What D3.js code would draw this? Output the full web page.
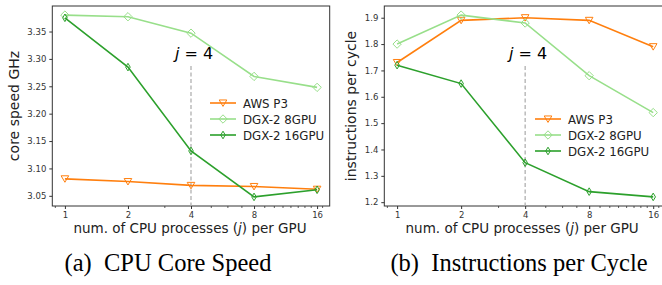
<!DOCTYPE html>
<html>
<head>
<meta charset="utf-8">
<script src="https://cdn.jsdelivr.net/npm/d3@7"></script>
<style>
  body { margin: 0; background: #fff; }
  svg text { font-family: "DejaVu Sans", sans-serif; }
</style>
</head>
<body>
<svg id="chart" width="662" height="285"></svg>
<script>
// x values: CPU processes per GPU
var procs = [1, 2, 4, 8, 16];
var seriesNames = ["AWS P3", "DGX-2 8GPU", "DGX-2 16GPU"];

// (a) core speed, GHz
var speedAws = [3.081, 3.076, 3.069, 3.067, 3.062];
var speedDgx8 = [3.380, 3.377, 3.347, 3.268, 3.248];
var speedDgx16 = [3.375, 3.285, 3.132, 3.048, 3.061];
var speedTicks = [3.05, 3.10, 3.15, 3.20, 3.25, 3.30, 3.35];

// (b) instructions per cycle
var ipcAws = [1.73, 1.89, 1.90, 1.89, 1.79];
var ipcDgx8 = [1.80, 1.91, 1.88, 1.68, 1.54];
var ipcDgx16 = [1.72, 1.65, 1.35, 1.24, 1.22];
var ipcTicks = [1.2, 1.3, 1.4, 1.5, 1.6, 1.7, 1.8, 1.9];

var colors = ["#ff7f0e", "#98df8a", "#2ca02c"];
var markers = ["tri", "diamond", "thin"];

var svg = d3.select("#chart");

function markerPath(kind, s) {
  if (kind == "tri") return "M" + (-s) + "," + (-s * 0.8) + "L" + s + "," + (-s * 0.8) + "L0," + (s * 0.9) + "Z";
  if (kind == "diamond") return "M0," + (-s * 1.1) + "L" + (s * 1.1) + ",0L0," + (s * 1.1) + "L" + (-s * 1.1) + ",0Z";
  return "M0," + (-s) + "L" + (s * 0.6) + ",0L0," + s + "L" + (-s * 0.6) + ",0Z";
}

function drawPanel(opts) {
  var g = svg.append("g");
  var x = d3.scaleLog().base(2)
    .domain([Math.pow(2, -0.2), Math.pow(2, 4.2)])
    .range([opts.left, opts.right]);
  var y = d3.scaleLinear().domain(opts.ydomain).range([206, 6]);

  // frame
  g.append("rect")
    .attr("x", opts.left).attr("y", 6)
    .attr("width", opts.right - opts.left).attr("height", 200)
    .attr("fill", "none").attr("stroke", "#333").attr("stroke-width", 1);

  // x axis, major ticks at the data points
  var xAxis = d3.axisBottom(x).tickValues(procs).tickFormat(d3.format("d"))
    .tickSize(3).tickPadding(3);
  var gx = g.append("g").attr("transform", "translate(0,206)").call(xAxis);
  gx.select(".domain").remove();

  // minor log ticks
  var minors = [0.9, 3, 5, 6, 7, 9, 10, 11, 12, 13, 14, 15, 17];
  g.selectAll(".minor").data(minors.filter(function(d) {
      return x(d) > opts.left && x(d) < opts.right;
    }))
    .enter().append("line")
    .attr("x1", function(d) { return x(d); })
    .attr("x2", function(d) { return x(d); })
    .attr("y1", 206).attr("y2", 208)
    .attr("stroke", "#333").attr("stroke-width", 0.8);

  var yAxis = d3.axisLeft(y).tickValues(opts.yticks).tickFormat(d3.format(opts.yfmt))
    .tickSize(3).tickPadding(3);
  var gy = g.append("g").attr("transform", "translate(" + opts.left + ",0)").call(yAxis);
  gy.select(".domain").remove();

  g.selectAll(".tick text").attr("font-size", 8.5).attr("fill", "#333")
    .style("font-family", "DejaVu Sans, sans-serif");
  g.selectAll(".tick line").attr("stroke", "#333");

  // j = 4 marker
  g.append("line")
    .attr("x1", x(4)).attr("x2", x(4))
    .attr("y1", 66).attr("y2", 206)
    .attr("stroke", "#aaa").attr("stroke-width", 1.2)
    .attr("stroke-dasharray", "4,2.5");
  var jt = g.append("text")
    .attr("x", x(4) + 3).attr("y", 59)
    .attr("text-anchor", "middle").attr("font-size", 16);
  jt.append("tspan").attr("font-style", "italic").text("j");
  jt.append("tspan").text(" = 4");

  // series
  var line = d3.line()
    .x(function(d, i) { return x(procs[i]); })
    .y(function(d) { return y(d); });

  opts.series.forEach(function(vals, k) {
    g.append("path")
      .datum(vals)
      .attr("fill", "none")
      .attr("stroke", colors[k])
      .attr("stroke-width", 1.6)
      .attr("d", line);
    g.selectAll(".m" + k).data(vals).enter().append("path")
      .attr("transform", function(d, i) { return "translate(" + x(procs[i]) + "," + y(d) + ")"; })
      .attr("d", markerPath(markers[k], 3.8))
      .attr("fill", "none")
      .attr("stroke", colors[k])
      .attr("stroke-width", 1);
  });

  // legend
  var lg = g.append("g").attr("transform", "translate(" + opts.legX + "," + opts.legY + ")");
  seriesNames.forEach(function(name, k) {
    var row = lg.append("g").attr("transform", "translate(0," + (k * 16) + ")");
    row.append("line").attr("x1", 0).attr("x2", 26).attr("y1", 0).attr("y2", 0)
      .attr("stroke", colors[k]).attr("stroke-width", 1.6);
    row.append("path").attr("transform", "translate(13,0)")
      .attr("d", markerPath(markers[k], 3.8))
      .attr("fill", "none").attr("stroke", colors[k]).attr("stroke-width", 1);
    row.append("text").attr("x", 33).attr("y", 4.5)
      .attr("font-size", 11.8).attr("fill", "#222").text(name);
  });

  // axis labels
  var xl = g.append("text")
    .attr("x", (opts.left + Math.min(opts.right, 662)) / 2 - 1).attr("y", 233)
    .attr("text-anchor", "middle").attr("font-size", 13.5).attr("fill", "#222");
  xl.append("tspan").text("num. of CPU processes (");
  xl.append("tspan").attr("font-style", "italic").text("j");
  xl.append("tspan").text(") per GPU");

  g.append("text")
    .attr("transform", "translate(" + opts.ylabX + "," + 106 + ") rotate(-90)")
    .attr("text-anchor", "middle").attr("font-size", 14).attr("fill", "#222")
    .text(opts.ylabel);

  // caption
  svg.append("text")
    .attr("x", opts.capX).attr("y", 271)
    .attr("text-anchor", "middle")
    .style("font-family", "Liberation Serif, Times New Roman, serif")
    .attr("font-size", 24.5).attr("fill", "#000")
    .attr("xml:space", "preserve")
    .text(opts.caption);
}

drawPanel({
  left: 52.3, right: 329.7,
  ydomain: [3.0314, 3.3966], yticks: speedTicks, yfmt: ".2f",
  series: [speedAws, speedDgx8, speedDgx16],
  legX: 210, legY: 103,
  ylabel: "core speed GHz", ylabX: 19,
  caption: "(a)  CPU Core Speed", capX: 168
});

drawPanel({
  left: 384.3, right: 666,
  ydomain: [1.1855, 1.9445], yticks: ipcTicks, yfmt: ".1f",
  series: [ipcAws, ipcDgx8, ipcDgx16],
  legX: 535, legY: 119,
  ylabel: "instructions per cycle", ylabX: 356,
  caption: "(b)  Instructions per Cycle", capX: 519
});
</script>
</body>
</html>
